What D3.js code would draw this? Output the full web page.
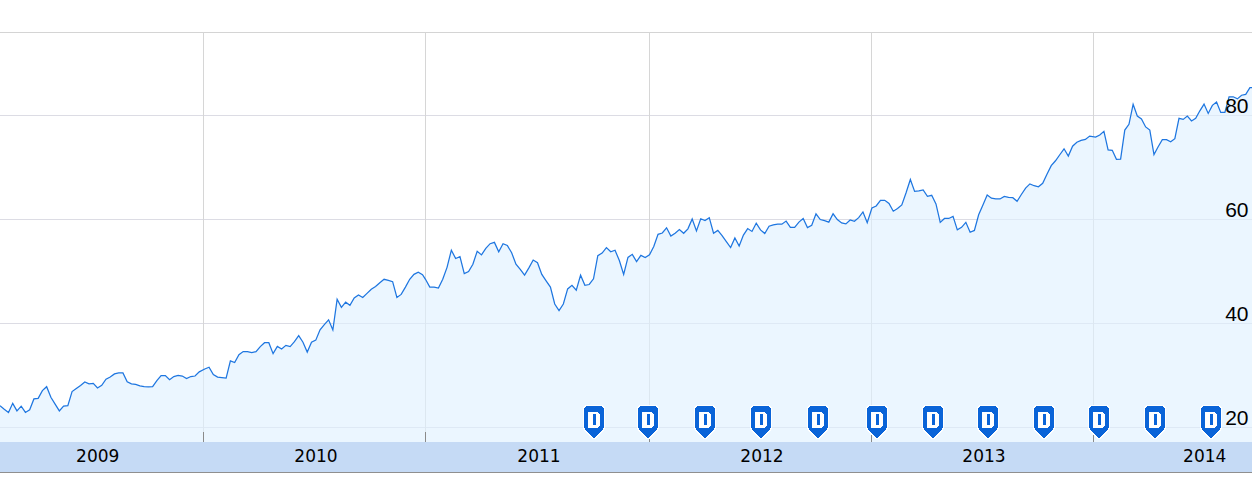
<!DOCTYPE html>
<html>
<head>
<meta charset="utf-8">
<script src="https://cdnjs.cloudflare.com/ajax/libs/d3/7.8.5/d3.min.js"></script>
<style>
  html, body { margin: 0; padding: 0; background: #fff; }
  svg { display: block; }
  text { fill: #000; }
</style>
</head>
<body>
<div id="chart"></div>
<script>
// weekly closes, one list per calendar year
const prices2009 = [24.2,23.5,22.9,24.65,23.2,24.1,22.9,23.4,25.5,25.6,27.1,27.85,25.8,24.5,23.2,24.1,24.2,26.9,27.5,28.1,28.75,28.4,28.5,27.6,28.1,29.3,29.7,30.3,30.5,30.5,28.8,28.4,28.3,28.0,27.85,27.8,27.85,29.0,30.0,30.0,29.2,29.8,30.0,29.9,29.4,29.8,29.9,30.7];
const prices2010 = [31.25,31.6,30.2,29.7,29.6,29.5,32.8,32.5,34.0,34.6,34.6,34.4,34.6,35.55,36.3,36.3,34.2,35.6,35.1,35.8,35.55,36.5,37.65,36.4,34.5,36.4,36.8,38.8,39.8,40.7,38.75,44.65,43.1,44.1,43.5,44.9,45.5,45.0,45.8,46.6,47.1,47.85,48.5,48.3,48.05,45.0,45.6,47.0,48.5,49.45,49.85,49.4];
const prices2011 = [48.5,47.0,47.0,46.8,48.5,50.8,54.1,52.5,52.85,49.6,50.0,51.4,53.9,53.2,54.45,55.35,55.6,53.8,55.35,55.0,53.6,51.4,50.4,49.3,50.7,52.2,51.7,49.45,48.2,47.0,43.75,42.5,43.75,46.65,47.35,46.4,49.3,47.35,47.5,48.6,53.05,53.55,54.6,53.8,54.1,52.1,49.45,52.7,53.3,51.9,53.1,52.7];
const prices2012 = [53.2,54.8,57.15,57.4,58.4,56.8,57.35,58.05,57.35,58.2,60.1,57.8,60.15,59.8,60.35,57.35,57.9,56.9,55.75,54.6,56.45,54.9,57.0,58.25,57.7,59.3,58.0,57.3,58.7,58.95,59.1,59.1,59.7,58.5,58.5,59.5,60.2,58.45,58.9,61.1,60.0,59.8,59.5,61.1,60.0,59.35,59.15,59.9,59.65,60.35,61.45,59.4];
const prices2013 = [62.2,62.6,63.7,63.7,63.1,61.6,62.1,62.8,65.15,67.7,65.4,65.5,65.7,64.45,64.65,63.0,59.45,60.2,60.2,60.6,58.0,58.5,59.45,57.55,57.9,60.9,62.8,64.7,64.1,63.95,63.95,64.45,64.25,64.2,63.5,64.8,66.05,66.85,66.5,66.3,66.95,68.7,70.35,71.3,72.45,73.6,72.2,74.1,74.85,75.2,75.4,76.05];
const prices2014 = [75.86,76.25,76.95,73.4,73.3,71.57,71.6,77.2,78.3,82.15,79.9,79.35,77.8,77.2,72.5,74.0,75.35,75.35,74.95,75.55,79.45,79.25,79.9,78.95,79.45,80.9,82.2,80.4,81.95,82.6,80.6,80.6,83.6,83.6,83.2,83.9,84.05,85.35];

const yearLabels = ["2009", "2010", "2011", "2012", "2013", "2014"];
const yearStarts = ["2009-01-29", "2010-01-01", "2011-01-01", "2012-01-01", "2013-01-01", "2014-01-01", "2014-09-18"];
const yTicks = [20, 40, 60, 80];
const dividendDates = ["2011-10-02", "2011-12-29", "2012-04-01", "2012-07-03", "2012-10-05", "2013-01-10", "2013-04-12", "2013-07-12", "2013-10-12", "2014-01-10", "2014-04-12", "2014-07-13"];

const width = 1252, height = 480;
const plot = { top: 32.5, bottom: 442 };

const parse = d3.utcParse("%Y-%m-%d");
const boundaries = yearStarts.map(parse);

const x = d3.scaleUtc()
  .domain(boundaries)
  .range([0, 203.5, 425.5, 649.5, 871.5, 1093.5, 1252]);

const y = d3.scaleLinear()
  .domain([20, 80])
  .range([427.5, 115.5]);

// spread each year's closes evenly over that year
const yearLists = [prices2009, prices2010, prices2011, prices2012, prices2013, prices2014];
const firstWeekOffset = [0, 0.3, 0, 0, 0.1, 0.5];
const data = yearLists.flatMap((list, k) => {
  const a = +boundaries[k], b = +boundaries[k + 1];
  return list.map((v, i) => ({ date: new Date(a + (i + firstWeekOffset[k]) * (b - a) / list.length), value: v }));
});

const svg = d3.select("#chart").append("svg")
  .attr("width", width)
  .attr("height", height);

// grid
svg.append("line")
  .attr("x1", 0).attr("x2", width)
  .attr("y1", plot.top).attr("y2", plot.top)
  .attr("stroke", "#d4d4d4");

svg.append("g").selectAll("line")
  .data(yTicks)
  .join("line")
  .attr("x1", 0).attr("x2", width)
  .attr("y1", d => y(d)).attr("y2", d => y(d))
  .attr("stroke", "#dcdce4");

svg.append("g").selectAll("line")
  .data(boundaries.slice(1, 6))
  .join("line")
  .attr("x1", d => x(d)).attr("x2", d => x(d))
  .attr("y1", plot.top).attr("y2", plot.bottom)
  .attr("stroke", "#d6d6d6");

// area and line
const area = d3.area()
  .x(d => x(d.date))
  .y0(plot.bottom)
  .y1(d => y(d.value));

const line = d3.line()
  .x(d => x(d.date))
  .y(d => y(d.value));

// run the shape out to the right edge of the window
const edged = [...data, { date: boundaries[6], value: data[data.length - 1].value }];

svg.append("path")
  .datum(edged)
  .attr("d", area)
  .attr("fill", "#dff0ff")
  .attr("fill-opacity", 0.63);

svg.append("path")
  .datum(edged)
  .attr("d", line)
  .attr("fill", "none")
  .attr("stroke", "#1e76e0")
  .attr("stroke-width", 1.25);

// year ticks above the band
svg.append("g").selectAll("line")
  .data(boundaries.slice(1, 6))
  .join("line")
  .attr("x1", d => x(d)).attr("x2", d => x(d))
  .attr("y1", 432).attr("y2", plot.bottom)
  .attr("stroke", "#8a8a8a");

// time band
svg.append("rect")
  .attr("x", 0).attr("y", plot.bottom)
  .attr("width", width).attr("height", 30)
  .attr("fill", "#c5daf5");

svg.append("line")
  .attr("x1", 0).attr("x2", width)
  .attr("y1", 472.5).attr("y2", 472.5)
  .attr("stroke", "#8f8f8f");

svg.append("g").selectAll("text")
  .data(yearLabels)
  .join("text")
  .attr("x", (d, i) => (x(boundaries[i]) + x(boundaries[i + 1])) / 2 + (i === 0 ? -4 : i === 5 ? 32 : 1.5))
  .attr("y", 462)
  .attr("text-anchor", "middle")
  .attr("font-family", "'DejaVu Sans', sans-serif")
  .attr("font-size", 17)
  .text(d => d);

// price labels
svg.append("g").selectAll("text")
  .data(yTicks)
  .join("text")
  .attr("x", 1248.5)
  .attr("y", d => y(d) - 2.5)
  .attr("text-anchor", "end")
  .attr("font-family", "'Liberation Sans', sans-serif")
  .attr("font-size", 21)
  .text(d => d);

// dividend pins, pixel stepped shield
const pinPath = "M-8,-15H8V-14H9V-13H10V7H9V9H8V10H7V11H6V12H5V13H4V14H3V15H2V16H1V17H-1V16H-2V15H-3V14H-4V13H-5V12H-6V11H-7V10H-8V9H-9V7H-10V-13H-9V-14H-8Z";
const pins = svg.append("g").selectAll("g")
  .data(dividendDates.map(parse))
  .join("g")
  .attr("transform", d => `translate(${Math.round(x(d))},421)`);

pins.append("path")
  .attr("d", pinPath)
  .attr("fill", "#0a64d8")
  .attr("stroke", "#fff")
  .attr("stroke-width", 2)
  .attr("paint-order", "stroke");

pins.append("path")
  .attr("d", "M-6,-9H4V-8H5V-7H6V5H5V6H4V7H-6ZM-1,-7V4H2V-7Z")
  .attr("fill", "#fff")
  .attr("fill-rule", "evenodd");
</script>
</body>
</html>
